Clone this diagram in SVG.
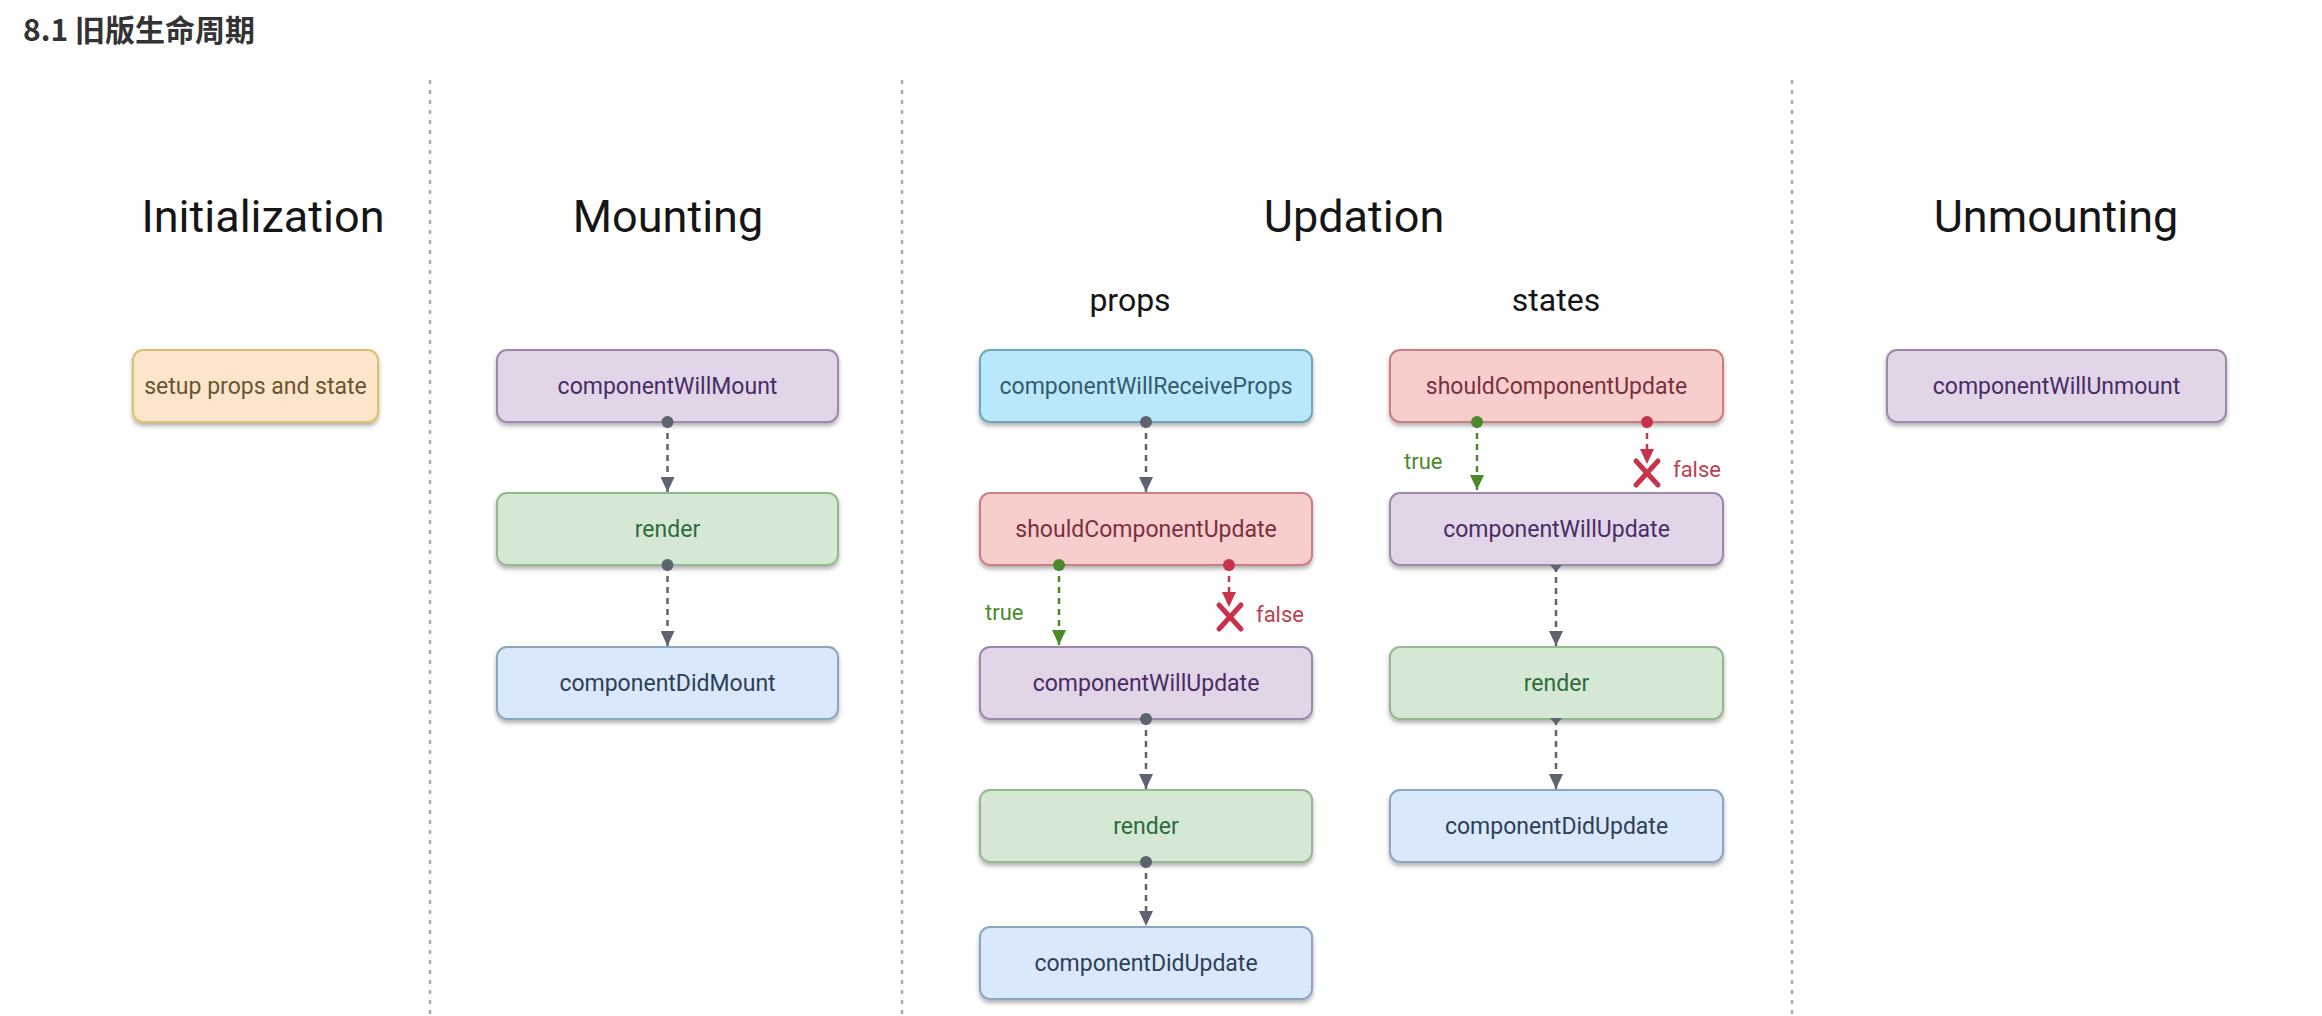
<svg xmlns="http://www.w3.org/2000/svg" width="2322" height="1016" viewBox="0 0 2322 1016">
<style>
  .title{font-family:"Noto Sans CJK SC","Noto Sans",sans-serif;font-weight:700;font-size:30px;fill:#333}
  .head{font-family:Roboto,"Liberation Sans",sans-serif;font-size:45px;fill:#151515;text-anchor:middle}
  .sub{font-family:Roboto,"Liberation Sans",sans-serif;font-size:32px;fill:#151515;text-anchor:middle}
  .lbl{font-family:Roboto,"Liberation Sans",sans-serif;font-size:23px;text-anchor:middle}
  .cond{font-family:Roboto,"Liberation Sans",sans-serif;font-size:22px}
  .div{stroke:#aaaaaa;stroke-width:2.5;stroke-dasharray:4 6}
  .box{stroke-width:2}
  .purple rect{fill:#e1d5e7;stroke:#9d8aab}
  .purple text{fill:#4a2c66}
  .red rect{fill:#f8cecc;stroke:#c97f7f}
  .red text{fill:#7a3040}
  .green rect{fill:#d5e8d4;stroke:#95b890}
  .green text{fill:#2e6b3d}
  .blue rect{fill:#dae8fc;stroke:#8ea4c3}
  .blue text{fill:#2e4057}
  .cyan rect{fill:#b9e8fa;stroke:#6fa8b8}
  .cyan text{fill:#355a6c}
  .setup rect{fill:#fde5cc;stroke:#dcc06a}
  .setup text{fill:#6a5432}
  .edge{fill:none;stroke-width:2.5;stroke-dasharray:6 5}
  .g{stroke:#5d6470}
  .t{stroke:#4a8a2a}
  .f{stroke:#c8324a}
  .dg{fill:#5d6470}
  .dt{fill:#4a8a2a}
  .df{fill:#c8324a}
  .x{stroke:#c8324a;stroke-width:5;stroke-linecap:round}
</style>
<defs>
  <filter id="sh" x="-10%" y="-20%" width="120%" height="150%">
    <feDropShadow dx="0" dy="3" stdDeviation="2" flood-color="#000" flood-opacity="0.3"/>
  </filter>
  <marker id="ag" markerUnits="userSpaceOnUse" markerWidth="16" markerHeight="14" refX="15" refY="7" orient="auto">
    <path d="M0,0 L15,7 L0,14 Z" fill="#5d6470"/>
  </marker>
  <marker id="at" markerUnits="userSpaceOnUse" markerWidth="16" markerHeight="14" refX="15" refY="7" orient="auto">
    <path d="M0,0 L15,7 L0,14 Z" fill="#4a8a2a"/>
  </marker>
  <marker id="af" markerUnits="userSpaceOnUse" markerWidth="16" markerHeight="14" refX="15" refY="7" orient="auto">
    <path d="M0,0 L15,7 L0,14 Z" fill="#c8324a"/>
  </marker>
</defs>
<rect width="2322" height="1016" fill="#ffffff"/>
<text class="title" x="23" y="41">8.1 旧版生命周期</text>

<g id="dividers">
  <line class="div" x1="430" y1="80" x2="430" y2="1016"/>
  <line class="div" x1="902" y1="80" x2="902" y2="1016"/>
  <line class="div" x1="1792" y1="80" x2="1792" y2="1016"/>
</g>

<g id="headers">
  <text class="head" x="263" y="232">Initialization</text>
  <text class="head" x="668" y="232">Mounting</text>
  <text class="head" x="1354" y="232">Updation</text>
  <text class="head" x="2056" y="232">Unmounting</text>
  <text class="sub" x="1130" y="311">props</text>
  <text class="sub" x="1556" y="311">states</text>
</g>

<g id="n-setup" class="setup"><rect class="box" x="133" y="350" width="245" height="72" rx="10" filter="url(#sh)"/><text class="lbl" x="255.5" y="394">setup props and state</text></g>

<g id="n-cwm" class="purple"><rect class="box" x="497" y="350" width="341" height="72" rx="10" filter="url(#sh)"/><text class="lbl" x="667.5" y="394">componentWillMount</text></g>
<g id="n-render-m" class="green"><rect class="box" x="497" y="493" width="341" height="72" rx="10" filter="url(#sh)"/><text class="lbl" x="667.5" y="537">render</text></g>
<g id="n-cdm" class="blue"><rect class="box" x="497" y="647" width="341" height="72" rx="10" filter="url(#sh)"/><text class="lbl" x="667.5" y="691">componentDidMount</text></g>

<g id="n-cwrp" class="cyan"><rect class="box" x="980" y="350" width="332" height="72" rx="10" filter="url(#sh)"/><text class="lbl" x="1146" y="394">componentWillReceiveProps</text></g>
<g id="n-scu-p" class="red"><rect class="box" x="980" y="493" width="332" height="72" rx="10" filter="url(#sh)"/><text class="lbl" x="1146" y="537">shouldComponentUpdate</text></g>
<g id="n-cwu-p" class="purple"><rect class="box" x="980" y="647" width="332" height="72" rx="10" filter="url(#sh)"/><text class="lbl" x="1146" y="691">componentWillUpdate</text></g>
<g id="n-render-p" class="green"><rect class="box" x="980" y="790" width="332" height="72" rx="10" filter="url(#sh)"/><text class="lbl" x="1146" y="834">render</text></g>
<g id="n-cdu-p" class="blue"><rect class="box" x="980" y="927" width="332" height="72" rx="10" filter="url(#sh)"/><text class="lbl" x="1146" y="971">componentDidUpdate</text></g>

<g id="n-scu-s" class="red"><rect class="box" x="1390" y="350" width="333" height="72" rx="10" filter="url(#sh)"/><text class="lbl" x="1556.5" y="394">shouldComponentUpdate</text></g>
<g id="n-cwu-s" class="purple"><rect class="box" x="1390" y="493" width="333" height="72" rx="10" filter="url(#sh)"/><text class="lbl" x="1556.5" y="537">componentWillUpdate</text></g>
<g id="n-render-s" class="green"><rect class="box" x="1390" y="647" width="333" height="72" rx="10" filter="url(#sh)"/><text class="lbl" x="1556.5" y="691">render</text></g>
<g id="n-cdu-s" class="blue"><rect class="box" x="1390" y="790" width="333" height="72" rx="10" filter="url(#sh)"/><text class="lbl" x="1556.5" y="834">componentDidUpdate</text></g>

<g id="n-cwun" class="purple"><rect class="box" x="1887" y="350" width="339" height="72" rx="10" filter="url(#sh)"/><text class="lbl" x="2056.5" y="394">componentWillUnmount</text></g>

<g id="connectors">
  <!-- mounting -->
  <line class="edge g" x1="667.5" y1="422" x2="667.5" y2="492" marker-end="url(#ag)"/>
  <circle class="dg" cx="667.5" cy="422" r="6"/>
  <line class="edge g" x1="667.5" y1="565" x2="667.5" y2="646" marker-end="url(#ag)"/>
  <circle class="dg" cx="667.5" cy="565" r="6"/>
  <!-- props -->
  <line class="edge g" x1="1146" y1="422" x2="1146" y2="492" marker-end="url(#ag)"/>
  <circle class="dg" cx="1146" cy="422" r="6"/>
  <line class="edge t" x1="1059" y1="565" x2="1059" y2="645" marker-end="url(#at)"/>
  <circle class="dt" cx="1059" cy="565" r="6"/>
  <line class="edge f" x1="1229" y1="565" x2="1229" y2="607" marker-end="url(#af)"/>
  <circle class="df" cx="1229" cy="565" r="6"/>
  <line class="x" x1="1219" y1="605" x2="1241" y2="629"/>
  <line class="x" x1="1241" y1="605" x2="1219" y2="629"/>
  <text class="cond" x="985" y="620" fill="#4a8a2a">true</text>
  <text class="cond" x="1256" y="622" fill="#c04050">false</text>
  <line class="edge g" x1="1146" y1="719" x2="1146" y2="789" marker-end="url(#ag)"/>
  <circle class="dg" cx="1146" cy="719" r="6"/>
  <line class="edge g" x1="1146" y1="862" x2="1146" y2="926" marker-end="url(#ag)"/>
  <circle class="dg" cx="1146" cy="862" r="6"/>
  <!-- states -->
  <line class="edge t" x1="1477" y1="422" x2="1477" y2="490" marker-end="url(#at)"/>
  <circle class="dt" cx="1477" cy="422" r="6"/>
  <line class="edge f" x1="1647" y1="422" x2="1647" y2="464" marker-end="url(#af)"/>
  <circle class="df" cx="1647" cy="422" r="6"/>
  <line class="x" x1="1636" y1="461" x2="1658" y2="485"/>
  <line class="x" x1="1658" y1="461" x2="1636" y2="485"/>
  <text class="cond" x="1404" y="469" fill="#4a8a2a">true</text>
  <text class="cond" x="1673" y="477" fill="#c04050">false</text>
  <line class="edge g" x1="1556" y1="566" x2="1556" y2="646" marker-end="url(#ag)"/>
  <path class="dg" d="M1550,565 L1562,565 L1556,572 Z"/>
  <line class="edge g" x1="1556" y1="719" x2="1556" y2="789" marker-end="url(#ag)"/>
  <path class="dg" d="M1550,718 L1562,718 L1556,725 Z"/>
</g>
</svg>
